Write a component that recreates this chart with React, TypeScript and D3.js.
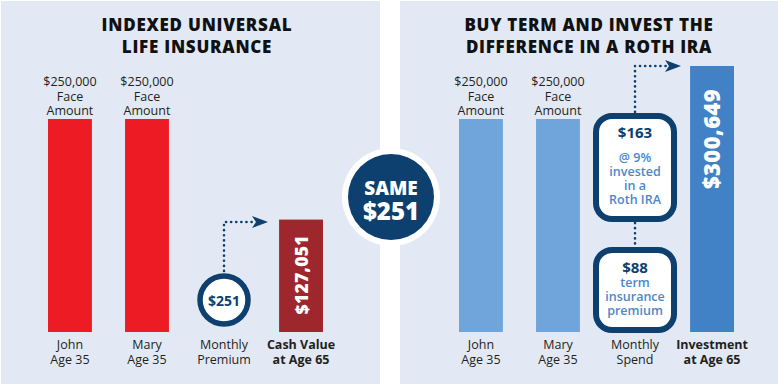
import * as d3 from 'd3';

// data
const leftTitle = ['INDEXED UNIVERSAL', 'LIFE INSURANCE'];
const rightTitle = ['BUY TERM AND INVEST THE', 'DIFFERENCE IN A ROTH IRA'];
const leftColumns = ['john', 'mary', 'premium', 'cash'];
const rightColumns = ['john', 'mary', 'spend', 'investment'];
const leftLabels = [['John', 'Age 35'], ['Mary', 'Age 35'], ['Monthly', 'Premium'], ['Cash Value', 'at Age 65']];
const rightLabels = [['John', 'Age 35'], ['Mary', 'Age 35'], ['Monthly', 'Spend'], ['Investment', 'at Age 65']];
const faceAmounts = [250000, 250000];
const cashValue = 127051;
const investmentValue = 300649;
const monthlyPremium = 251;
const investedMonthly = 163;
const termPremium = 88;
const rothRate = 9;

const W = 778;
const H = 384;
const NAVY = '#0d3f6f';
const BG = '#e2e9f5';
const INK = '#231f20';
const FONT = '"Open Sans", Roboto, sans-serif';

const money = d3.format('$,');

// bar heights
const baseY = 332;
const faceY = d3.scaleLinear().domain([0, 250000]).range([baseY, 119]);
const valueY = d3.scaleLinear().domain([0, investmentValue]).range([baseY, 66]);

const leftX = d3.scaleBand<string>().domain(leftColumns).range([48, 323]).paddingInner(0.43);
const rightX = d3.scaleBand<string>().domain(rightColumns).range([459, 734]).paddingInner(0.43);

function DottedArrow({ x, y0, y1, x1 }: { x: number; y0: number; y1: number; x1: number }) {
  const path = d3.path();
  path.moveTo(x, y0);
  path.lineTo(x, y1);
  path.lineTo(x1 - 14, y1);
  return (
    <g>
      <path d={path.toString()} fill="none" stroke={NAVY} strokeWidth={2.6}
        strokeDasharray="0.1 5" strokeLinecap="round" />
      <path d={`M${x1 - 16},${y1 - 6}L${x1},${y1}L${x1 - 16},${y1 + 6}L${x1 - 12},${y1}Z`} fill={NAVY} />
    </g>
  );
}

function FaceBar({ xs, col, color }: { xs: d3.ScaleBand<string>; col: string; color: string }) {
  const x = xs(col)!;
  const bw = xs.bandwidth();
  const cx = x + bw / 2;
  const v = faceAmounts[0];
  const top = faceY(v);
  return (
    <g>
      <rect x={x} y={top} width={bw} height={baseY - top} fill={color} />
      <text x={cx} y={86} textAnchor="middle" fontSize={12.5} fill={INK}>
        <tspan x={cx} dy={0}>{money(v)}</tspan>
        <tspan x={cx} dy={14.5}>Face</tspan>
        <tspan x={cx} dy={14.5}>Amount</tspan>
      </text>
    </g>
  );
}

function BottomLabel({ cx, lines, bold }: { cx: number; lines: string[]; bold?: boolean }) {
  return (
    <text x={cx} y={349} textAnchor="middle" fontSize={12.5} fontWeight={bold ? 700 : 400} fill={INK}>
      <tspan x={cx} dy={0}>{lines[0]}</tspan>
      <tspan x={cx} dy={15}>{lines[1]}</tspan>
    </text>
  );
}

export default function App() {
  const lc = (c: string) => leftX(c)! + leftX.bandwidth() / 2;
  const rc = (c: string) => rightX(c)! + rightX.bandwidth() / 2;
  const bw = leftX.bandwidth();

  const cashTop = valueY(cashValue);
  const invTop = valueY(investmentValue);
  const premX = lc('premium');
  const spendX = rc('spend');

  return (
    <svg width={W} height={H} style={{ position: 'absolute', left: 0, top: 0, fontFamily: FONT }}>
      <rect x={0} y={0} width={W} height={H} fill="#ffffff" />
      <rect x={1} y={1} width={379} height={H - 1} fill={BG} />
      <rect x={400} y={1} width={W - 400} height={H - 1} fill={BG} />

      {/* titles */}
      <text textAnchor="middle" fontSize={17} fontWeight={800} fill="#111" letterSpacing={0.75}>
        <tspan x={197} y={31}>{leftTitle[0]}</tspan>
        <tspan x={197} y={53}>{leftTitle[1]}</tspan>
      </text>
      <text textAnchor="middle" fontSize={17} fontWeight={800} fill="#111" letterSpacing={0.7}>
        <tspan x={589} y={31}>{rightTitle[0]}</tspan>
        <tspan x={589} y={53}>{rightTitle[1]}</tspan>
      </text>

      {/* left panel */}
      <FaceBar xs={leftX} col="john" color="#ed1c24" />
      <FaceBar xs={leftX} col="mary" color="#ed1c24" />
      <DottedArrow x={premX} y0={271} y1={222} x1={268} />
      <circle cx={premX} cy={300} r={24} fill="#fff" stroke={NAVY} strokeWidth={5.5} />
      <text x={premX} y={305.5} textAnchor="middle" fontSize={14} fontWeight={700} fill={NAVY}>
        {money(monthlyPremium)}
      </text>
      <rect x={leftX('cash')} y={cashTop} width={bw} height={baseY - cashTop} fill="#9e262d" />
      <text transform={`translate(${lc('cash') + 7},${(cashTop + baseY) / 2 - 1}) rotate(-90)`}
        textAnchor="middle" fontSize={17.5} fontWeight={800} fill="#fff" letterSpacing={0.3}>
        {money(cashValue)}
      </text>
      {leftColumns.map((c, i) => (
        <BottomLabel key={c} cx={lc(c)} lines={leftLabels[i]} bold={i === 3} />
      ))}

      {/* right panel */}
      <FaceBar xs={rightX} col="john" color="#6fa5db" />
      <FaceBar xs={rightX} col="mary" color="#6fa5db" />
      <DottedArrow x={spendX} y0={112} y1={66} x1={681} />
      <path d={`M${spendX},${223}L${spendX},${246}`} stroke={NAVY} strokeWidth={2.6}
        strokeDasharray="0.1 5" strokeLinecap="round" />
      <rect x={spendX - 39} y={116} width={78} height={103} rx={16} fill="#fff" stroke={NAVY} strokeWidth={6} />
      <text textAnchor="middle" fill={NAVY} fontSize={15} fontWeight={700}>
        <tspan x={spendX} y={138}>{money(investedMonthly)}</tspan>
      </text>
      <text textAnchor="middle" fill="#4a88cb" fontSize={12.5} fontWeight={600}>
        <tspan x={spendX} y={162}>{`@ ${rothRate}%`}</tspan>
        <tspan x={spendX} y={176}>invested</tspan>
        <tspan x={spendX} y={190}>in a</tspan>
        <tspan x={spendX} y={204}>Roth IRA</tspan>
      </text>
      <rect x={spendX - 39} y={250} width={78} height={80} rx={16} fill="#fff" stroke={NAVY} strokeWidth={6} />
      <text textAnchor="middle" fill={NAVY} fontSize={15} fontWeight={700}>
        <tspan x={spendX} y={273}>{money(termPremium)}</tspan>
      </text>
      <text textAnchor="middle" fill="#4a88cb" fontSize={12.5} fontWeight={600}>
        <tspan x={spendX} y={287}>term</tspan>
        <tspan x={spendX} y={301}>insurance</tspan>
        <tspan x={spendX} y={315}>premium</tspan>
      </text>
      <rect x={rightX('investment')} y={invTop} width={bw} height={baseY - invTop} fill="#4181c6" />
      <text transform={`translate(${rc('investment') + 8},${139}) rotate(-90)`}
        textAnchor="middle" fontSize={22} fontWeight={800} fill="#fff" letterSpacing={0.4}>
        {money(investmentValue)}
      </text>
      {rightColumns.map((c, i) => (
        <BottomLabel key={c} cx={rc(c)} lines={rightLabels[i]} bold={i === 3} />
      ))}

      {/* center badge */}
      <circle cx={391} cy={197} r={49} fill="#fff" />
      <circle cx={391} cy={197} r={43} fill={NAVY} />
      <text textAnchor="middle" fill="#fff" fontWeight={800}>
        <tspan x={391} y={195} fontSize={19}>SAME</tspan>
        <tspan x={391} y={220} fontSize={24}>{money(monthlyPremium)}</tspan>
      </text>
    </svg>
  );
}
